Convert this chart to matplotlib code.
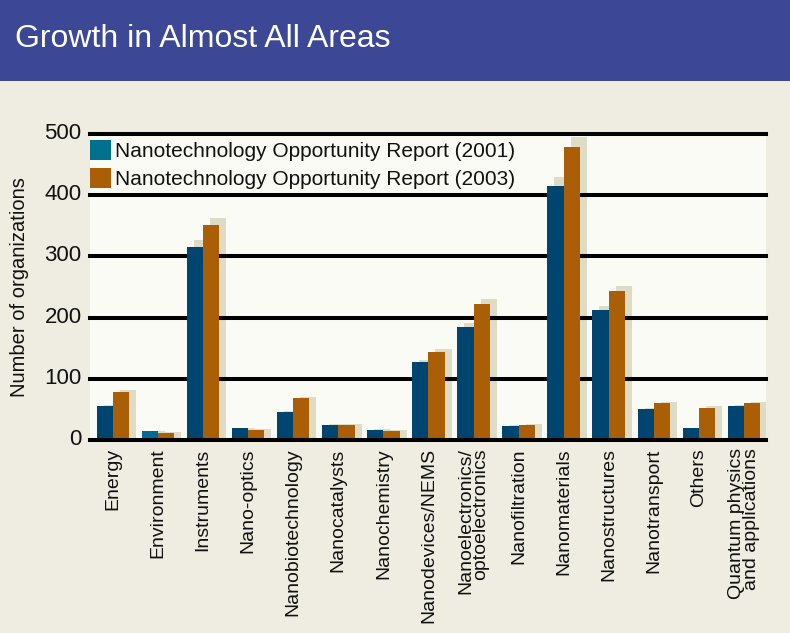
import matplotlib
matplotlib.use("Agg")
import matplotlib.pyplot as plt
import matplotlib.transforms as mtransforms
from matplotlib.patches import Rectangle, Patch
import numpy as np

categories = ["Energy", "Environment", "Instruments", "Nano-optics", "Nanobiotechnology",
              "Nanocatalysts", "Nanochemistry", "Nanodevices/NEMS",
              "Nanoelectronics/\noptoelectronics", "Nanofiltration", "Nanomaterials",
              "Nanostructures", "Nanotransport", "Others", "Quantum physics\nand applications"]
values_2001 = [55, 14, 316, 19, 46, 25, 17, 127, 184, 23, 415, 212, 51, 19, 55]
values_2003 = [79, 12, 351, 17, 68, 25, 15, 143, 222, 25, 479, 243, 60, 53, 60]
series_labels = ["Nanotechnology Opportunity Report (2001)",
                 "Nanotechnology Opportunity Report (2003)"]
yticks = [0, 100, 200, 300, 400, 500]

plt.rcParams['font.family'] = ['Liberation Sans', 'DejaVu Sans']

W, H = 790, 633
fig = plt.figure(figsize=(W / 100, H / 100), dpi=100)
fig.patch.set_facecolor('#efece1')

# title banner
fig.patches.append(Rectangle((0, 1 - 81 / H), 1, 81 / H, transform=fig.transFigure,
                             facecolor='#3c4796', edgecolor='none', zorder=0))
fig.text(15 / W, 1 - 47 / H, "Growth in Almost All Areas", color='white',
         fontsize=23, va='baseline', ha='left')

ax_left, ax_right, ax_top, ax_bot = 90, 766, 134, 440
ax = fig.add_axes([ax_left / W, 1 - ax_bot / H, (ax_right - ax_left) / W, (ax_bot - ax_top) / H])
ax.set_facecolor('#fbfbf6')
for s in ax.spines.values():
    s.set_visible(False)

n = len(categories)
x = np.arange(n)
bw = 0.36
off_b = 0.15
off_o = off_b + bw
sh = 0.155
shadow_scale = 1.035

c2001 = '#004470'
c2001_alt = '#006a96'
c2003 = '#aa5e05'
cshadow = '#dedcc6'

colors_2001 = [c2001_alt if c == "Environment" else c2001 for c in categories]

v1 = np.array(values_2001, dtype=float)
v2 = np.array(values_2003, dtype=float)

ax.bar(x + off_b + sh, v1 * shadow_scale, width=bw, align='edge', color=cshadow, zorder=1)
ax.bar(x + off_o + sh, v2 * shadow_scale, width=bw, align='edge', color=cshadow, zorder=1)
ax.bar(x + off_b, v1, width=bw, align='edge', color=colors_2001, zorder=3)
ax.bar(x + off_o, v2, width=bw, align='edge', color=c2003, zorder=3)

for yv in yticks:
    ax.axhline(yv, color='black', lw=2.9, zorder=2 if yv > 0 else 4, clip_on=False)

ax.set_xlim(0, n)
ax.set_ylim(0, 500)
ax.set_yticks(yticks)
ax.set_yticklabels([str(t) for t in yticks], fontsize=16, color='#111111')
ax.tick_params(axis='y', length=0, pad=6)
offset = mtransforms.ScaledTranslation(0, 3 / 100, fig.dpi_scale_trans)
for lab in ax.get_yticklabels():
    lab.set_transform(lab.get_transform() + offset)

ax.set_xticks(x + off_o)
ax.set_xticklabels(categories, rotation=90, fontsize=14, color='#111111',
                   va='top', ha='center', multialignment='right', linespacing=0.85)
ax.tick_params(axis='x', length=0, pad=6)

fig.text(20 / W, 1 - 287 / H, "Number of organizations", rotation=90,
         fontsize=14.5, ha='center', va='center', color='#111111')

handles = [Patch(facecolor='#00708f', edgecolor='none'),
           Patch(facecolor=c2003, edgecolor='none')]
leg = ax.legend(handles, series_labels, loc='upper left',
                bbox_to_anchor=(0, (ax_bot - 140) / (ax_bot - ax_top)),
                frameon=False, fontsize=15, handlelength=1.0, handleheight=1.1,
                handletextpad=0.2, labelspacing=0.33, borderpad=0, borderaxespad=0)
for t in leg.get_texts():
    t.set_color('#111111')

fig.savefig('out.png', dpi=100, facecolor=fig.get_facecolor())
